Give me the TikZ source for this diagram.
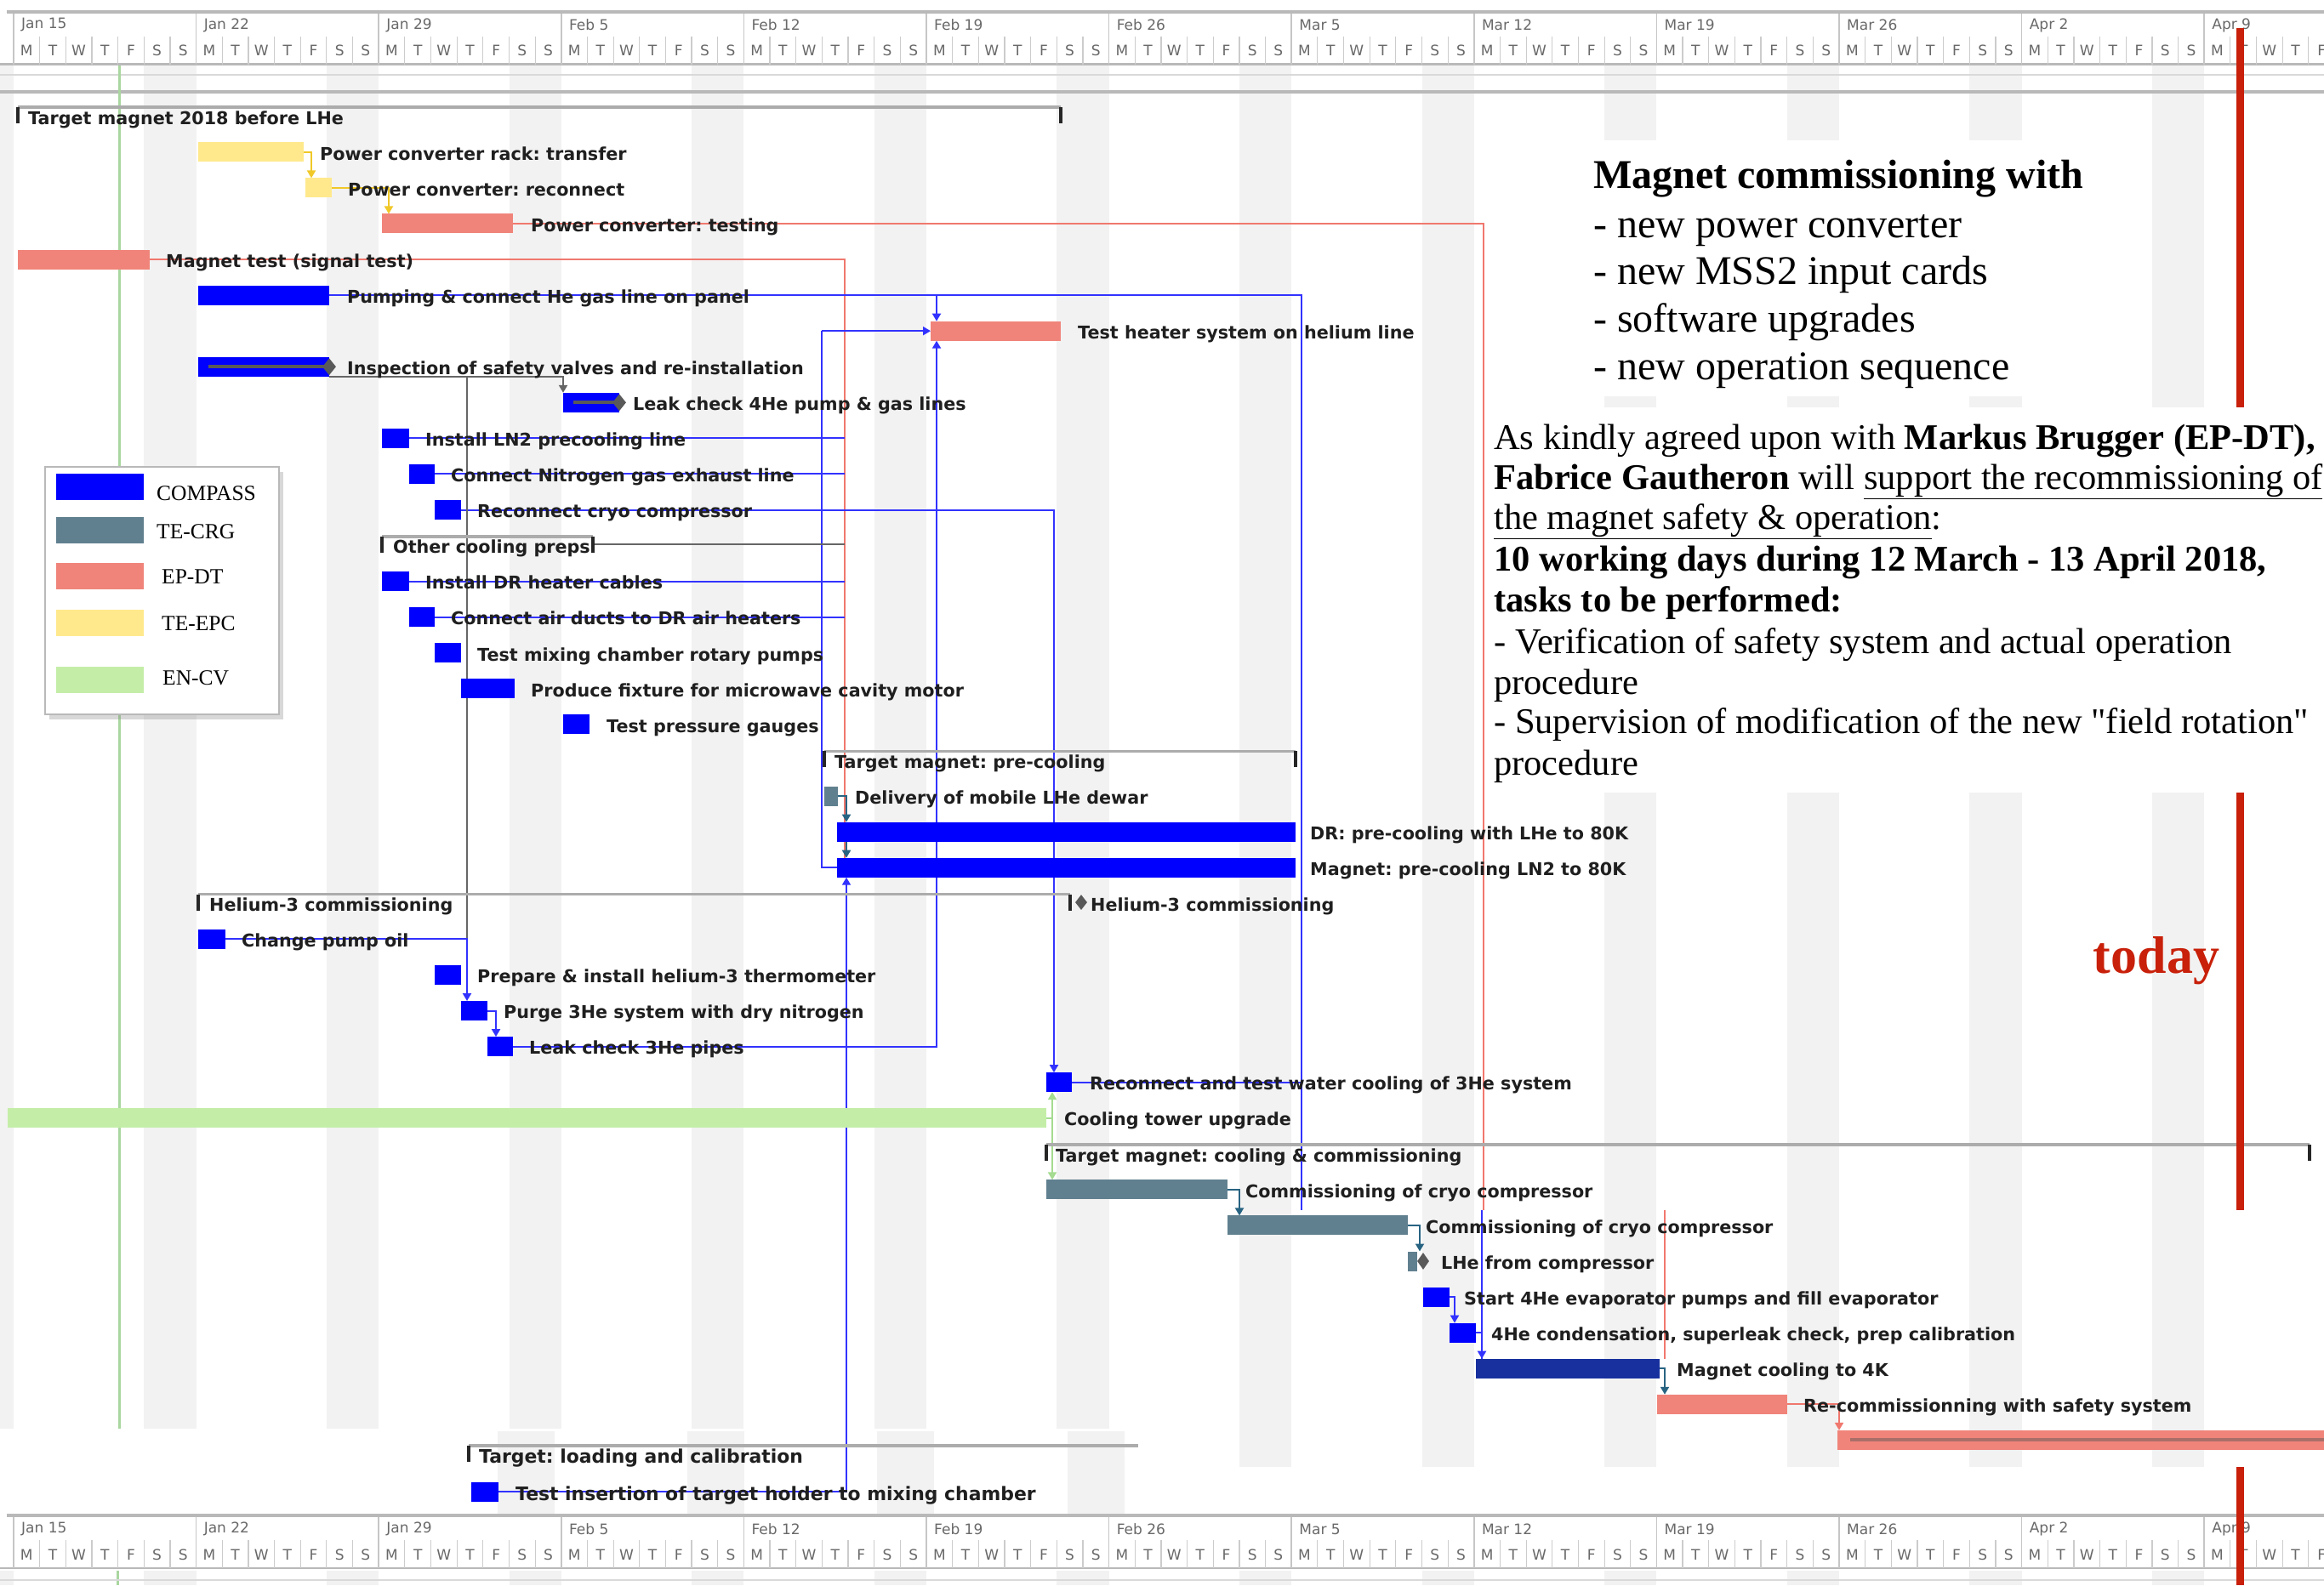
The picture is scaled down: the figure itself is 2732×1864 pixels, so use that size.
\documentclass[tikz,border=0pt]{standalone}
\usepackage{fontspec}
\setmainfont{Liberation Serif}
\newfontfamily\rawserif{Liberation Serif}
\newfontfamily\gfont{DejaVu Sans}
\usetikzlibrary{shapes.geometric,shadows,arrows.meta,calc}
\frenchspacing
\definecolor{compass}{RGB}{0,0,255}
\definecolor{tecrg}{RGB}{96,128,143}
\definecolor{epdt}{RGB}{240,132,122}
\definecolor{teepc}{RGB}{255,233,140}
\definecolor{encv}{RGB}{196,238,168}
\definecolor{darkbar}{RGB}{24,48,158}
\definecolor{stripe}{RGB}{242,242,242}
\definecolor{todayred}{RGB}{200,32,10}
\definecolor{depblue}{RGB}{50,50,255}
\definecolor{depteal}{RGB}{40,100,130}
\definecolor{depsalmon}{RGB}{240,120,110}
\definecolor{depyellow}{RGB}{240,200,40}
\definecolor{depgreen}{RGB}{165,220,145}
\definecolor{hdrgray}{RGB}{105,105,105}
\newcommand{\gbar}[5]{\node[barbox, fill=#5, minimum width={#4-#3}] (#1) at (#3,{139+42.07*(#2)-2.25}) {};}
\newcommand{\glab}[4]{\node[glabel] (#1) at (#3,{139+42.07*(#2)+7}) {#4};}
\newcommand{\gsum}[4]{\node[sumnode, minimum width={#4-#3}] (#1) at (#3,{139+42.07*(#2)-13}) {};}
\begin{document}
\frenchspacing
\begin{tikzpicture}[x=1pt,y=-1pt,
  barbox/.style={rectangle, inner sep=0pt, outer sep=0pt, minimum height=23pt, anchor=west, draw=none},
  glabel/.style={anchor=base west, inner sep=0pt, font=\frenchspacing\gfont\bfseries\fontsize{20.7}{24}\selectfont, text=black!88},
  glabelL/.style={glabel, font=\frenchspacing\gfont\bfseries\fontsize{21.9}{25}\selectfont},
  sumnode/.style={rectangle, inner sep=0pt, outer sep=0pt, minimum height=19pt, anchor=north west},
  sumline/.style={draw=gray!65, line width=3.5pt},
  sumtick/.style={draw=black!85, line width=4pt},
  hdr/.style={inner sep=0pt, font=\gfont\fontsize{17}{20}\selectfont, text=hdrgray},
  bl/.style={draw=depblue, line width=2pt},
  sal/.style={draw=depsalmon, line width=2pt},
  yel/.style={draw=depyellow, line width=2pt},
  gry/.style={draw=gray!80!black, line width=2pt},
  tea/.style={draw=depteal, line width=2pt},
  grn/.style={draw=depgreen, line width=2pt},
  tip/.style={-{Triangle[width=10pt,length=9pt]}},
  mstone/.style={diamond, fill=gray!70!black, inner sep=0pt, minimum width=16pt, minimum height=20pt},
  big/.style={anchor=base west, inner sep=0pt, font=\frenchspacing\fontsize{48}{56}\selectfont},
  txt/.style={anchor=base west, inner sep=0pt, font=\frenchspacing\fontsize{42.5}{48}\selectfont},
  legt/.style={anchor=base west, inner sep=0pt, font=\fontsize{25.5}{30}\selectfont},
  legsw/.style={anchor=north west, inner sep=0pt, minimum width=103pt, minimum height=31pt}
]
\useasboundingbox (0,0) rectangle (2732,1864);
\fill[white] (0,0) rectangle (2732,1864);
% weekend stripes
\foreach \k in {-1,...,12} {\fill[stripe] ({16+214.6*\k+153.3},75) rectangle ({16+214.6*(\k+1)},1725);}
\foreach \k in {-1,...,12} {\fill[stripe] ({16+214.6*\k+153.3},1847) rectangle ({16+214.6*(\k+1)},1864);}
\draw[gray!30, line width=2.5pt] (0,88) -- (2732,88);
\draw[gray!55, line width=3.5pt] (0,108) -- (2732,108);
\draw[draw={rgb,255:red,170;green,215;blue,160}, line width=3pt] (140,76) -- (140,1680);
% lower patch
\fill[white] (0,1680) rectangle (1340,1782);
\foreach \xa in {585,808,1031,1255} {\fill[stripe] (\xa,1683) rectangle ({\xa+67},1782);}
\fill[white] (1340,1725) rectangle (2732,1782);
\draw[draw={rgb,255:red,170;green,215;blue,160}, line width=3pt] (138,1847) -- (138,1864);

% coordinates
\coordinate (vx) at (993,0);
\coordinate (hx) at (549,0);
\coordinate (xa) at (1101,0);
\coordinate (xb) at (966,0);
\coordinate (p1) at (1744,1423);
\coordinate (p1b) at (1957,1423);
\coordinate (p2) at (1530,1423);
\coordinate (p3) at (1742,1423);

% bars (nodes)
\gbar{b1}{1}{233}{357}{teepc}
\gbar{b2}{2}{359}{390}{teepc}
\gbar{b3}{3}{449}{603}{epdt}
\gbar{b4}{4}{21}{176}{epdt}
\gbar{b5}{5}{233}{387}{compass}
\gbar{b6}{6}{1094}{1247}{epdt}
\gbar{b7}{7}{233}{387}{compass}
\gbar{b8}{8}{662}{728}{compass}
\gbar{b9}{9}{449}{481}{compass}
\gbar{b10}{10}{481}{511}{compass}
\gbar{b11}{11}{511}{542}{compass}
\gbar{b13}{13}{449}{481}{compass}
\gbar{b14}{14}{481}{511}{compass}
\gbar{b15}{15}{511}{542}{compass}
\gbar{b16}{16}{542}{605}{compass}
\gbar{b17}{17}{662}{693}{compass}
\gbar{b19}{19}{969}{985}{tecrg}
\gbar{b20}{20}{984}{1523}{compass}
\gbar{b21}{21}{984}{1523}{compass}
\gbar{b23}{23}{233}{265}{compass}
\gbar{b24}{24}{511}{542}{compass}
\gbar{b25}{25}{542}{573}{compass}
\gbar{b26}{26}{573}{603}{compass}
\gbar{b27}{27}{1230}{1260}{compass}
\gbar{b28}{28}{9}{1230}{encv}
\gbar{b30}{30}{1230}{1443}{tecrg}
\gbar{b31}{31}{1443}{1655}{tecrg}
\gbar{b32}{32}{1655}{1666}{tecrg}
\gbar{b33}{33}{1673}{1704}{compass}
\gbar{b34}{34}{1704}{1735}{compass}
\gbar{b35}{35}{1735}{1951}{darkbar}
\gbar{b36}{36}{1948}{2101}{epdt}
\gbar{b37}{37}{2160}{2745}{epdt}
\node[barbox, fill=compass, minimum width=32pt] (ti) at (554,1754) {};

% summaries
\gsum{s0}{0}{21}{1247}
\gsum{s12}{12}{449}{697}
\gsum{s18}{18}{969}{1523}
\gsum{s22}{22}{233}{1258}
\gsum{s29}{29}{1230}{2715}
\node[sumnode, minimum width=787pt] (sL) at (551,1700) {};

% connectors
\draw[yel,tip] (b1.east) -| ([xshift=7pt]b2.north west);
\draw[yel,tip] (b2.east) -| ([xshift=8pt]b3.north west);
\draw[sal] (b3.east) -| (p1);
\draw[sal] (p1b) -- (p1b |- b35.north);
\draw[sal] (b4.east) -| ([xshift=9pt]b21.north west);
\draw[bl] (b5.east) -| (p2);
\draw[bl,tip] (b5.east -| xa) -- (b6.north -| xa);
\draw[bl,tip] (b6.west -| xb) -- (b6.west);
\draw[bl] (b6.west -| xb) |- (b21.west);
\draw[bl,tip] (b26.east) -| (b6.south -| xa);
\draw[bl,tip] (b11.east) -| ([xshift=9pt]b27.north west);
\foreach \b in {b9,b10,b13,b14} {\draw[bl] (\b.east) -- (\b.east -| vx);}
\draw[gry] (s12.east) -- (s12.east -| vx);
\draw[gry,tip] (b7.south east) -| (b8.north west);
\draw[gry] (b7.south east -| hx) -- (b23.east -| hx);
\draw[bl,tip] (b23.east) -| ([xshift=7pt]b25.north west);
\draw[bl,tip] (b25.east) -| ([xshift=10pt]b26.north west);
\draw[tea,tip] (b19.east) -| ([xshift=11pt]b20.north west);
\draw[tea,tip] ([xshift=11pt]b20.south west) -- ([xshift=11pt]b21.north west);
\draw[bl,tip] (ti.east) -| ([xshift=11pt]b21.south west);
\draw[grn,tip] (b28.east) -| ([xshift=7pt]b27.south west);
\draw[grn,tip] (b28.east) -| ([xshift=7pt]b30.north west);
\draw[bl] (b27.east) -- (b27.east -| p2);
\draw[tea,tip] (b30.east) -| ([xshift=14pt]b31.north west);
\draw[tea,tip] (b31.east) -| ([xshift=14pt]b32.north west);
\draw[bl,tip] (b33.east) -| ([xshift=6pt]b34.north west);
\draw[bl,tip] (b34.east) -| ([xshift=7pt]b35.north west);
\draw[bl] (p3) -- ([xshift=7pt]b35.north west);
\draw[tea,tip] (b35.east) -| ([xshift=9pt]b36.north west);
\draw[sal,tip] (b36.east) -| ([xshift=2pt]b37.north west);

% bars on top of connectors
\foreach \b/\c in {b1/teepc,b2/teepc,b3/epdt,b4/epdt,b5/compass,b6/epdt,b7/compass,b8/compass,b9/compass,b10/compass,b11/compass,b13/compass,b14/compass,b15/compass,b16/compass,b17/compass,b19/tecrg,b20/compass,b21/compass,b23/compass,b24/compass,b25/compass,b26/compass,b27/compass,b28/encv,b30/tecrg,b31/tecrg,b32/tecrg,b33/compass,b34/compass,b35/darkbar,b36/epdt,b37/epdt,ti/compass}
  {\fill[\c] (\b.north west) rectangle (\b.south east);}
% progress lines and milestones
\draw[gray!70!black, line width=4pt] ([xshift=12pt]b7.west) -- (b7.east);
\node[mstone] (m7) at (b7.east) {};
\draw[gray!70!black, line width=4pt] ([xshift=12pt]b8.west) -- (b8.east);
\node[mstone] (m8) at (b8.east) {};
\draw[draw={rgb,255:red,170;green,110;blue,105}, line width=4pt] ([xshift=15pt]b37.west) -- (b37.east);
\node[mstone, minimum width=14pt, minimum height=20pt] (m32) at ([xshift=7pt]b32.east) {};
\node[mstone, minimum width=14pt, minimum height=18pt] (m22) at ([xshift=13pt]s22.east) {};

% summary brackets
\foreach \s in {s0,s12,s18,s29} {
  \draw[sumline] (\s.north west) -- (\s.north east);
  \draw[sumtick] (\s.north west) -- (\s.south west);
  \draw[sumtick] (\s.north east) -- (\s.south east);
}
\draw[sumline] (s22.north west) -- (s22.north east);
\draw[sumtick] (s22.north west) -- (s22.south west);
\draw[sumtick] (s22.north east) -- (s22.south east);
\draw[sumline] (sL.north west) -- (sL.north east);
\draw[sumtick] (sL.north west) -- (sL.south west);

% labels
\glab{t0}{0}{33}{Target magnet 2018 before LHe}
\glab{t1}{1}{376}{Power converter rack: transfer}
\glab{t2}{2}{409}{Power converter: reconnect}
\glab{t3}{3}{624}{Power converter: testing}
\glab{t4}{4}{195}{Magnet test (signal test)}
\glab{t5}{5}{408}{Pumping \& connect He gas line on panel}
\glab{t6}{6}{1267}{Test heater system on helium line}
\glab{t7}{7}{408}{Inspection of safety valves and re-installation}
\glab{t8}{8}{744}{Leak check 4He pump \& gas lines}
\glab{t9}{9}{500}{Install LN2 precooling line}
\glab{t10}{10}{530}{Connect Nitrogen gas exhaust line}
\glab{t11}{11}{561}{Reconnect cryo compressor}
\glab{t12}{12}{462}{Other cooling preps}
\glab{t13}{13}{500}{Install DR heater cables}
\glab{t14}{14}{530}{Connect air ducts to DR air heaters}
\glab{t15}{15}{561}{Test mixing chamber rotary pumps}
\glab{t16}{16}{624}{Produce fixture for microwave cavity motor}
\glab{t17}{17}{713}{Test pressure gauges}
\glab{t18}{18}{981}{Target magnet: pre-cooling}
\glab{t19}{19}{1005}{Delivery of mobile LHe dewar}
\glab{t20}{20}{1540}{DR: pre-cooling with LHe to 80K}
\glab{t21}{21}{1540}{Magnet: pre-cooling LN2 to 80K}
\glab{t22}{22}{246}{Helium-3 commissioning}
\glab{t22b}{22}{1282}{Helium-3 commissioning}
\glab{t23}{23}{284}{Change pump oil}
\glab{t24}{24}{561}{Prepare \& install helium-3 thermometer}
\glab{t25}{25}{592}{Purge 3He system with dry nitrogen}
\glab{t26}{26}{622}{Leak check 3He pipes}
\glab{t27}{27}{1281}{Reconnect and test water cooling of 3He system}
\glab{t28}{28}{1251}{Cooling tower upgrade}
\glab{t29}{29}{1241}{Target magnet: cooling \& commissioning}
\glab{t30}{30}{1464}{Commissioning of cryo compressor}
\glab{t31}{31}{1676}{Commissioning of cryo compressor}
\glab{t32}{32}{1694}{LHe from compressor}
\glab{t33}{33}{1721}{Start 4He evaporator pumps and fill evaporator}
\glab{t34}{34}{1753}{4He condensation, superleak check, prep calibration}
\glab{t35}{35}{1971}{Magnet cooling to 4K}
\glab{t36}{36}{2120}{Re-commissionning with safety system}
\node[glabelL] (tL) at (563,1720) {Target: loading and calibration};
\node[glabelL] (tT) at (606,1764) {Test insertion of target holder to mixing chamber};

% text boxes
\node[fill=white, inner sep=0pt, minimum width=779pt, minimum height=301pt, anchor=north west] (box1) at (1750,165) {};
\node[big] (l1) at (1873,221) {\bfseries Magnet commissioning with};
\node[big] (l2) at (1873,279) {- new power converter};
\node[big] (l3) at (1873,334) {- new MSS2 input cards};
\node[big] (l4) at (1873,390) {- software upgrades};
\node[big] (l5) at (1873,446) {- new operation sequence};
\node[fill=white, inner sep=0pt, minimum width=990pt, minimum height=453pt, anchor=north west] (box2) at (1747,479) {};
\node[txt] (m1) at (1756,528.5) {As kindly agreed upon with \textbf{Markus Brugger (EP-DT),}};
\node[txt] (m2) at (1756,575.5) {\textbf{Fabrice Gautheron} will \underline{support the recommissioning of}};
\node[txt] (m3) at (1756,622.5) {\underline{the magnet safety \& operation}:};
\node[txt] (m4) at (1756,671.5) {\textbf{10 working days during 12 March - 13 April 2018,}};
\node[txt] (m5) at (1756,719.5) {\textbf{tasks to be performed:}};
\node[txt] (m6) at (1756,768.5) {- Verification of safety system and actual operation};
\node[txt] (m7) at (1756,816.5) {procedure};
\node[txt] (m8) at (1756,862.5) {\rawserif - Supervision of modification of the new "field rotation"};
\node[txt] (m9) at (1756,911.5) {procedure};

% legend
\node[draw=gray!55, line width=2pt, fill=white, minimum width=275pt, minimum height=291pt, anchor=north west, inner sep=0pt,
      drop shadow={shadow xshift=5pt, shadow yshift=-6pt, opacity=0.3}] (leg) at (52,548) {};
\node[legsw, fill=compass] (lg1) at (66,557) {};
\node[legsw, fill=tecrg] (lg2) at (66,608) {};
\node[legsw, fill=epdt] (lg3) at (66,662) {};
\node[legsw, fill=teepc] (lg4) at (66,717) {};
\node[legsw, fill=encv] (lg5) at (66,784) {};
\node[legt] (lt1) at (184,588.5) {COMPASS};
\node[legt] (lt2) at (184,633.5) {TE-CRG};
\node[legt] (lt3) at (190,686.5) {EP-DT};
\node[legt] (lt4) at (190,741.5) {TE-EPC};
\node[legt] (lt5) at (191,805.5) {EN-CV};

% headers
\fill[white] (0,0) rectangle (2732,75);
\fill[white] (0,1780) rectangle (2732,1847);
\foreach \hy/\hn in {13.5/t,1782/b} {
  \draw[gray!55, line width=4pt] (8,\hy) -- (2732,\hy);
  \draw[gray!55, line width=2.5pt] (0,{\hy+62}) -- (2732,{\hy+62});
  \foreach \k in {0,...,12} {
    \draw[gray!45, line width=1.5pt] ({16+214.6*\k},{\hy+2}) -- ({16+214.6*\k},{\hy+62});
    \foreach \j in {1,...,6} {\draw[gray!40, line width=1.2pt] ({16+214.6*\k+30.657*\j},{\hy+29}) -- ({16+214.6*\k+30.657*\j},{\hy+62});}
    \foreach \j/\L in {0/M,1/T,2/W,3/T,4/F,5/S,6/S} {\node[hdr] (d-\hn-\k-\j) at ({16+214.6*\k+30.657*(\j+0.5)},{\hy+46}) {\L};}
  }
  \foreach \k/\lab in {0/Jan 15,1/Jan 22,2/Jan 29,3/Feb 5,4/Feb 12,5/Feb 19,6/Feb 26,7/Mar 5,8/Mar 12,9/Mar 19,10/Mar 26,11/Apr 2,12/Apr 9}
    {\node[hdr, anchor=west] (w-\hn-\k) at ({16+214.6*\k+9},{\hy+16}) {\lab};}
}
\draw[gray!30, line width=2pt] (0,1858) -- (2732,1858);

% today line
\draw[todayred, line width=9pt] (2633,33) -- (2633,479);
\draw[todayred, line width=9pt] (2633,932) -- (2633,1423);
\draw[todayred, line width=9pt] (2633,1725) -- (2633,1864);
\node[inner sep=0pt, font=\bfseries\fontsize{62}{70}\selectfont, text=todayred] (today) at (2535,1130) {today};
\end{tikzpicture}
\end{document}
